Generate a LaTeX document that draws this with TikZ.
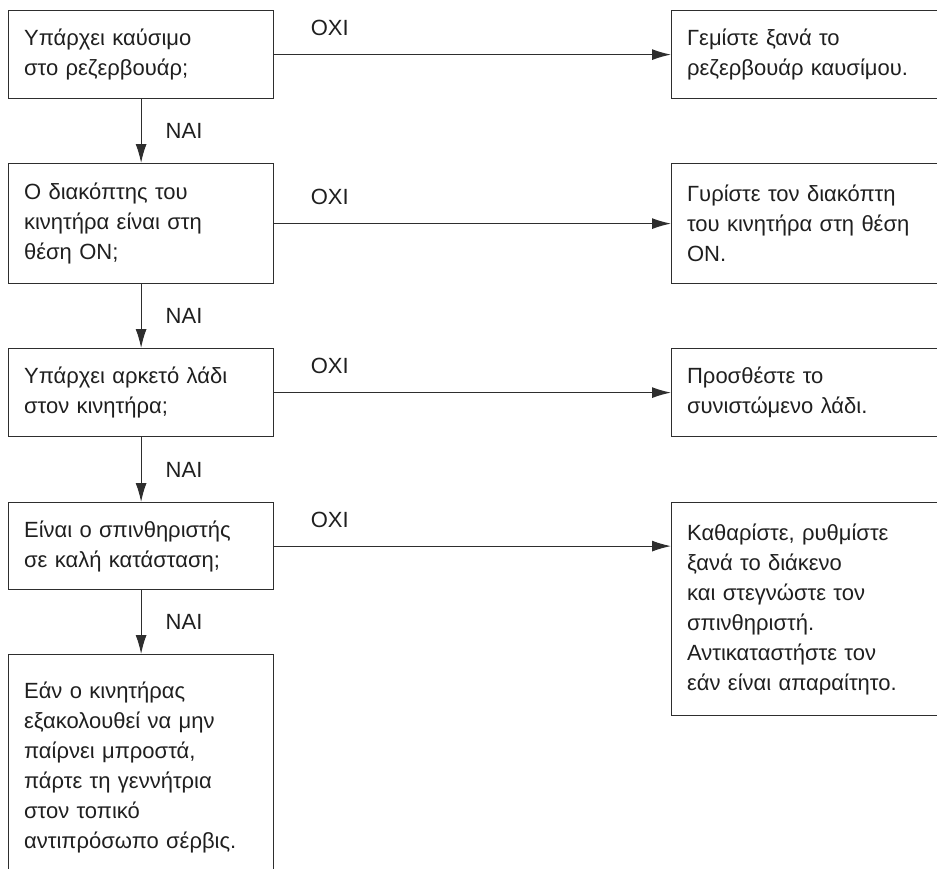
\documentclass[tikz,border=0pt]{standalone}
\usepackage{fontspec}
\setmainfont{Liberation Sans}
\usetikzlibrary{positioning, arrows.meta}
\colorlet{ink}{black!82}
\tikzset{
    step node/.style={rectangle, draw=ink, line width=1.2pt, anchor=north west, align=left, text=black!88, text width=234pt, inner xsep=15.5pt, inner ysep=0pt, font=\fontsize{22}{30}\selectfont},
    action node/.style={step node, text width=250pt},
    answer label/.style={font=\fontsize{22}{26}\selectfont, text=black!88, inner sep=2pt},
    flow arrow/.style={-{Latex[length=19pt, width=11pt]}, line width=1.2pt, draw=ink},
}

\begin{document}
\begin{tikzpicture}[x=1pt, y=-1pt]
    \useasboundingbox (0,0) rectangle (937,868);
    \clip (0,0) rectangle (937,868);
    % questions
    \node[step node, minimum height=88pt] (fuel) at (8,10) {Υπάρχει καύσιμο\\στο ρεζερβουάρ;};
    \node[step node, minimum height=120pt] (switch) at (8,163) {Ο διακόπτης του\\κινητήρα είναι στη\\θέση ON;};
    \node[step node, minimum height=88pt] (oil) at (8,348) {Υπάρχει αρκετό λάδι\\στον κινητήρα;};
    \node[step node, minimum height=87pt] (spark) at (8,502) {Είναι ο σπινθηριστής\\σε καλή κατάσταση;};
    \node[step node, minimum height=226pt] (dealer) at (8,654) {Εάν ο κινητήρας\\εξακολουθεί να μην\\παίρνει μπροστά,\\πάρτε τη γεννήτρια\\στον τοπικό\\αντιπρόσωπο σέρβις.};
    % actions
    \node[action node, minimum height=88pt] (refuel) at (671,10) {Γεμίστε ξανά το\\ρεζερβουάρ καυσίμου.};
    \node[action node, minimum height=120pt] (turnon) at (671,163) {Γυρίστε τον διακόπτη\\του κινητήρα στη θέση\\ON.};
    \node[action node, minimum height=88pt] (addoil) at (671,348) {Προσθέστε το\\συνιστώμενο λάδι.};
    \node[action node, minimum height=213pt] (clean) at (671,502) {Καθαρίστε, ρυθμίστε\\ξανά το διάκενο\\και στεγνώστε τον\\σπινθηριστή.\\Αντικαταστήστε τον\\εάν είναι απαραίτητο.};
    % yes / no
    \foreach \a/\b in {fuel/switch, switch/oil, oil/spark, spark/dealer}
        \draw[flow arrow] (\a.south) -- node[answer label, midway, right=22pt] {ΝΑΙ} (\b.north);
    \foreach \a/\b in {fuel/refuel, switch/turnon, oil/addoil, spark/clean}
        \draw[flow arrow] (\a.east) -- node[answer label, pos=0.14, above=16pt] {ΟΧΙ} (\a.east -| \b.west);
\end{tikzpicture}
\end{document}
